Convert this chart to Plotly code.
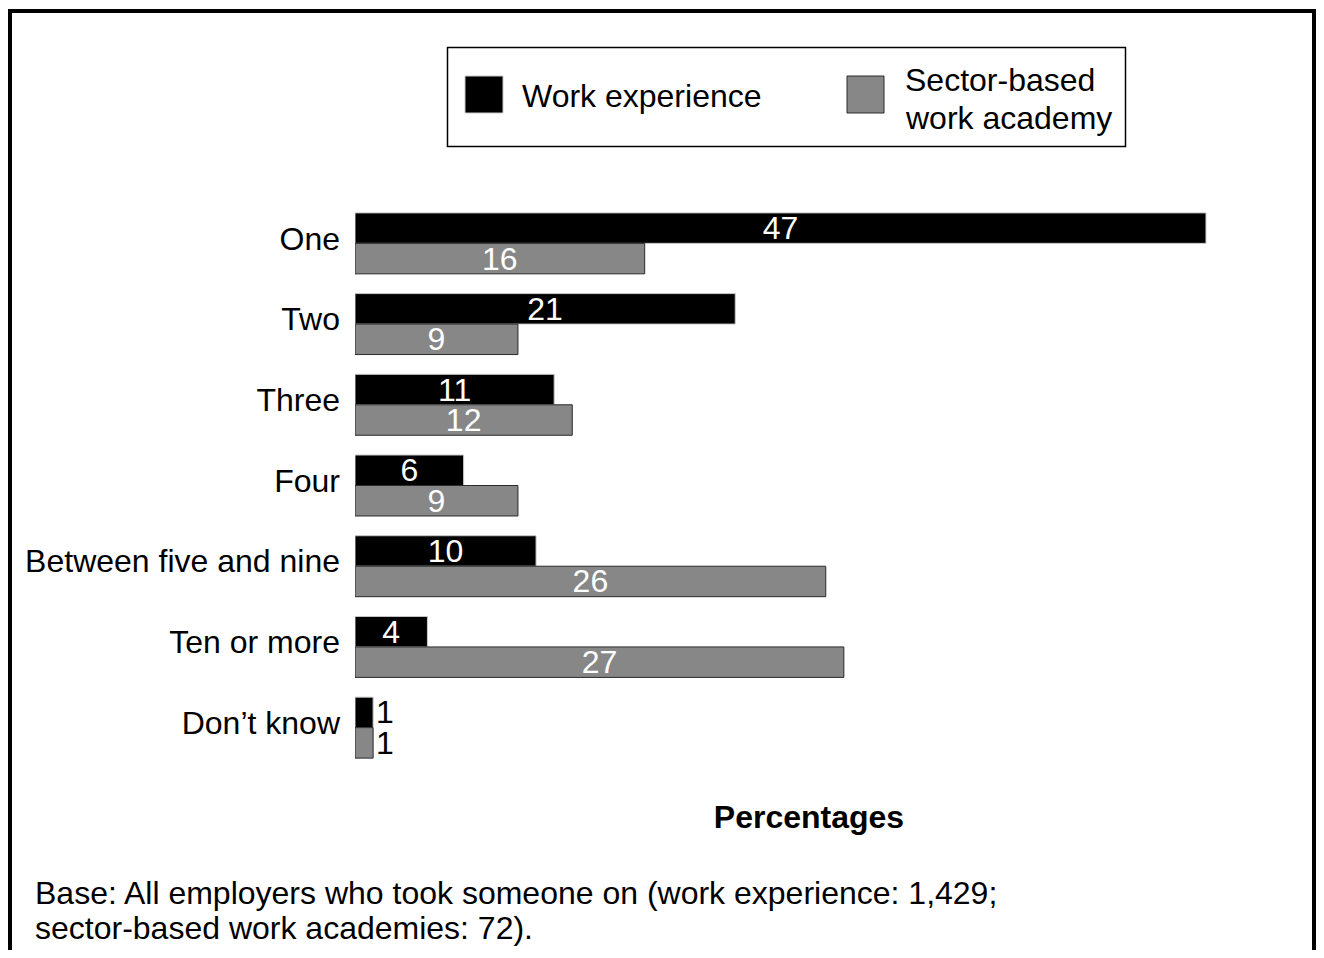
import plotly.graph_objects as go

categories = ["One", "Two", "Three", "Four", "Between five and nine", "Ten or more", "Don\u2019t know"]
work_experience = [47, 21, 11, 6, 10, 4, 1]
work_academy = [16, 9, 12, 9, 26, 27, 1]
series_names = ["Work experience", "Sector-based work academy"]
legend_lines = [["Work experience"], ["Sector-based", "work academy"]]
footer_lines = ["Base: All employers who took someone on (work experience: 1,429;",
                "sector-based work academies: 72)."]

# The page body adds an 8px margin on every side; the figure is sized to fit inside it.
OFF = 8
W, H = 1324 - 2 * OFF, 958 - 2 * OFF
# plot area in screen (reference) pixels
LS, RS, TS, BS = 355, 1263, 203, 768
FONT = "Liberation Sans, Arial, sans-serif"
FS = 32


def px(x):
    return (x - LS) / (RS - LS)


def py(y):
    return (BS - y) / (BS - TS)


def positions(vals):
    return ["outside" if v <= 2 else "inside" for v in vals]


fig = go.Figure()
fig.add_trace(go.Bar(
    y=categories, x=work_experience, orientation="h", name=series_names[0],
    marker=dict(color="#000000", line=dict(color="#c8c8c8", width=1)),
    text=[str(v) for v in work_experience], textposition=positions(work_experience),
    insidetextanchor="middle", constraintext="none", textangle=0,
    insidetextfont=dict(color="white", size=FS, family=FONT),
    outsidetextfont=dict(color="black", size=FS, family=FONT),
    showlegend=False, cliponaxis=False,
))
fig.add_trace(go.Bar(
    y=categories, x=work_academy, orientation="h", name=series_names[1],
    marker=dict(color="#878787", line=dict(color="#2a2a2a", width=1)),
    text=[str(v) for v in work_academy], textposition=positions(work_academy),
    insidetextanchor="middle", constraintext="none", textangle=0,
    insidetextfont=dict(color="white", size=FS, family=FONT),
    outsidetextfont=dict(color="black", size=FS, family=FONT),
    showlegend=False, cliponaxis=False,
))

shapes = [
    # outer frame
    dict(type="rect", xref="paper", yref="paper", x0=px(10), x1=px(1314), y0=py(1000), y1=py(11),
         line=dict(color="black", width=4), fillcolor="rgba(0,0,0,0)", layer="above"),
    # legend box
    dict(type="rect", xref="paper", yref="paper", x0=px(447.5), x1=px(1125.5), y0=py(146.5), y1=py(47.5),
         line=dict(color="black", width=1.5), fillcolor="white"),
    # legend swatches
    dict(type="rect", xref="paper", yref="paper", x0=px(465), x1=px(503), y0=py(113), y1=py(76),
         line=dict(color="#c8c8c8", width=1), fillcolor="#000000"),
    dict(type="rect", xref="paper", yref="paper", x0=px(847), x1=px(884), y0=py(113), y1=py(76),
         line=dict(color="#2a2a2a", width=1), fillcolor="#878787"),
]

txt = dict(showarrow=False, xref="paper", yref="paper", xanchor="left", yanchor="middle",
           font=dict(size=FS, family=FONT, color="black"))
annotations = [
    dict(x=px(520), y=py(96), text=legend_lines[0][0], **txt),
    dict(x=px(903), y=py(80), text=legend_lines[1][0], **txt),
    dict(x=px(903), y=py(118), text=legend_lines[1][1], **txt),
    dict(x=px(33), y=py(893), text=footer_lines[0], **txt),
    dict(x=px(33), y=py(928), text=footer_lines[1], **txt),
]

fig.update_layout(
    width=W, height=H,
    margin=dict(l=LS - OFF, r=W - (RS - OFF), t=TS - OFF, b=H - (BS - OFF), autoexpand=False),
    paper_bgcolor="white", plot_bgcolor="white",
    barmode="group", bargap=0.245, bargroupgap=0.0,
    font=dict(family=FONT, size=FS, color="black"),
    shapes=shapes, annotations=annotations,
    xaxis=dict(range=[0, 50.15], showgrid=False, zeroline=False, showline=False,
               showticklabels=False, ticks="",
               title=dict(text="<b>Percentages</b>", standoff=37,
                          font=dict(size=FS, family=FONT, color="black"))),
    yaxis=dict(range=[6.5, -0.5], showgrid=False, zeroline=False, showline=False,
               ticks="", ticklabelstandoff=14, ticklabelshift=5,
               tickfont=dict(size=FS, family=FONT, color="black")),
)

fig.write_html("out.html")
